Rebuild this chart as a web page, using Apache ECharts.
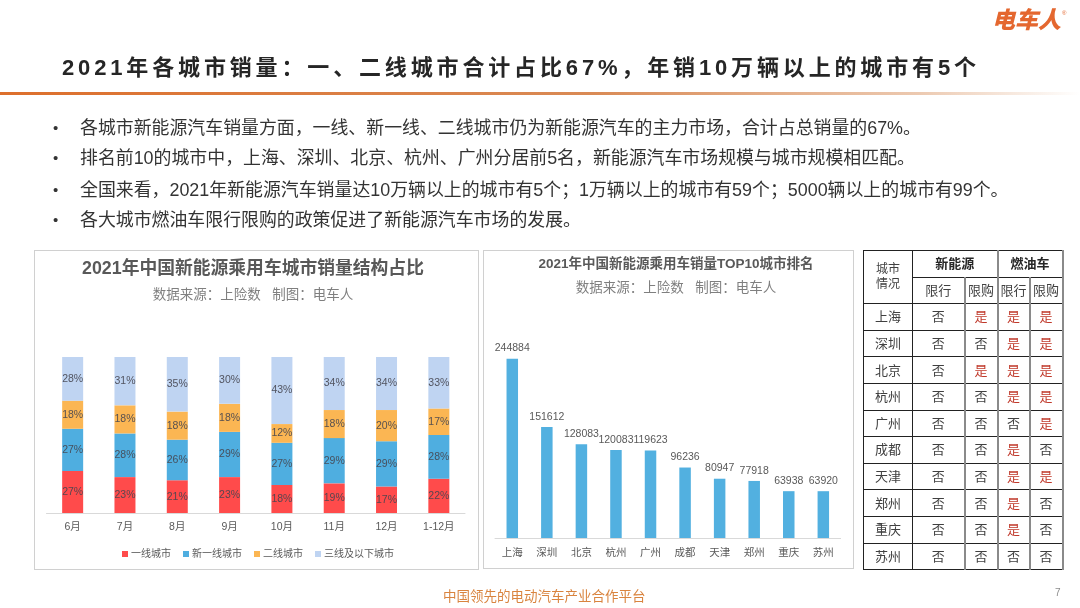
<!DOCTYPE html>
<html>
<head>
<meta charset="utf-8">
<script src="https://cdn.jsdelivr.net/npm/echarts@6/dist/echarts.min.js"></script>
<style>
  html, body { margin: 0; padding: 0; background: #fff; }
  body { width: 1080px; height: 608px; position: relative; overflow: hidden; font-family: "Liberation Sans", "Noto Sans CJK SC", sans-serif; }
  .abs { position: absolute; white-space: nowrap; }
  #heading { left: 62px; top: 53px; font-size: 22px; line-height: 30px; font-weight: bold; letter-spacing: 3.85px; color: #262626; }
  #rule { left: 0; top: 92px; width: 1080px; height: 3px; background: linear-gradient(to right, #dd6f2c 0%, #d98a55 55%, #ecc9b0 85%, #ffffff 100%); }
  #logo { left: 992px; top: 3px; font-size: 23px; line-height: 34px; font-weight: 900; font-style: italic; color: #e4672f; }
  #logo sup { font-size: 6px; font-style: normal; font-weight: normal; vertical-align: 13px; line-height: 0; margin-left: 1px; }
  .bullet { left: 80px; font-size: 17.9px; line-height: 24px; color: #333; }
  .bullet::before { content: "•"; position: absolute; left: -27px; font-size: 15px; }
  .panel { border: 1px solid #d0d0d0; box-sizing: border-box; }
  #main { left: 0; top: 0; width: 1080px; height: 608px; }
  #footer { left: 443px; top: 588px; font-size: 13.5px; line-height: 18px; color: #d9843f; }
  #pageNo { left: 1055px; top: 587px; font-size: 10px; line-height: 12px; color: #8c8c8c; }
  #cities { left: 863px; top: 250px; border-collapse: collapse; table-layout: fixed; width: 199px; font-size: 13px; color: #404040; }
  #cities td { border: 1px solid #222; text-align: center; padding: 0; height: 25.6px; line-height: 15px; }
  #cities td.v { border-left: 2px solid #8a8a8a; border-right: 2px solid #8a8a8a; }
  #cities td.city { border-right: 1px solid #222; }
  #cities .yes { color: #c0392b; }
  #cities .head { font-weight: bold; color: #262626; }
</style>
</head>
<body>
<div class="abs panel" style="left:34px;top:250px;width:445px;height:320px"></div>
<div class="abs panel" style="left:483px;top:250px;width:371px;height:319px"></div>
<div class="abs" id="main"></div>

<div class="abs" id="logo">电车人<sup>®</sup></div>
<div class="abs" id="heading">2021年各城市销量：一、二线城市合计占比67%，年销10万辆以上的城市有5个</div>
<div class="abs" id="rule"></div>
<div class="abs bullet" style="top:116px">各城市新能源汽车销量方面，一线、新一线、二线城市仍为新能源汽车的主力市场，合计占总销量的67%。</div>
<div class="abs bullet" style="top:146px">排名前10的城市中，上海、深圳、北京、杭州、广州分居前5名，新能源汽车市场规模与城市规模相匹配。</div>
<div class="abs bullet" style="top:178px">全国来看，2021年新能源汽车销量达10万辆以上的城市有5个；1万辆以上的城市有59个；5000辆以上的城市有99个。</div>
<div class="abs bullet" style="top:208px">各大城市燃油车限行限购的政策促进了新能源汽车市场的发展。</div>
<table class="abs" id="cities"></table>
<div class="abs" id="footer">中国领先的电动汽车产业合作平台</div>
<div class="abs" id="pageNo">7</div>

<script>
var months = ['6月', '7月', '8月', '9月', '10月', '11月', '12月', '1-12月'];
var tier1 = [27, 23, 21, 23, 18, 19, 17, 22];
var newTier1 = [27, 28, 26, 29, 27, 29, 29, 28];
var tier2 = [18, 18, 18, 18, 12, 18, 20, 17];
var tier3 = [28, 31, 35, 30, 43, 34, 34, 33];

var cities = ['上海', '深圳', '北京', '杭州', '广州', '成都', '天津', '郑州', '重庆', '苏州'];
var sales = [244884, 151612, 128083, 120083, 119623, 96236, 80947, 77918, 63938, 63920];

var nevDrive = ['否', '否', '否', '否', '否', '否', '否', '否', '否', '否'];
var nevBuy = ['是', '否', '是', '否', '否', '否', '否', '否', '否', '否'];
var iceDrive = ['是', '是', '是', '是', '否', '是', '是', '是', '是', '否'];
var iceBuy = ['是', '是', '是', '是', '是', '否', '是', '否', '否', '否'];

// table on the right
function cell(txt) {
  return '<td class="v' + (txt == '是' ? ' yes' : '') + '">' + txt + '</td>';
}
var html = '<colgroup><col style="width:49px"><col style="width:52px"><col style="width:33px"><col style="width:32px"><col style="width:33px"></colgroup>';
html += '<tr><td rowspan="2" class="city" style="font-size:12px">城市<br>情况</td><td colspan="2" class="head">新能源</td><td colspan="2" class="head v">燃油车</td></tr>';
html += '<tr><td>限行</td><td class="v">限购</td><td class="v">限行</td><td class="v">限购</td></tr>';
cities.forEach(function (c, i) {
  html += '<tr><td class="city">' + c + '</td><td' + (nevDrive[i] == '是' ? ' class="yes"' : '') + '>' + nevDrive[i] + '</td>' +
    cell(nevBuy[i]) + cell(iceDrive[i]) + cell(iceBuy[i]) + '</tr>';
});
document.getElementById('cities').innerHTML = html;

var fontFamily = '"Liberation Sans", "Noto Sans CJK SC", sans-serif';

function stack(name, data, color) {
  return {
    name: name,
    type: 'bar',
    stack: 'share',
    barWidth: 21,
    xAxisIndex: 0,
    yAxisIndex: 0,
    data: data,
    itemStyle: { color: color },
    label: {
      show: true,
      position: 'inside',
      formatter: '{c}%',
      fontSize: 10.5,
      color: 'rgba(70,70,80,0.9)'
    }
  };
}

var myChart = echarts.init(document.getElementById('main'));
var option = {
  animation: false,
  textStyle: { fontFamily: fontFamily },
  title: [
    { text: '2021年中国新能源乘用车城市销量结构占比', left: 253, top: 260, padding: 0, textAlign: 'center',
      textStyle: { fontSize: 17.8, fontWeight: 'bold', color: '#595959', fontFamily: fontFamily } },
    { text: '数据来源：上险数   制图：电车人', left: 253, top: 289, padding: 0, textAlign: 'center',
      textStyle: { fontSize: 13.5, fontWeight: 'normal', color: '#7f7f7f', fontFamily: fontFamily } },
    { text: '2021年中国新能源乘用车销量TOP10城市排名', left: 676, top: 258, padding: 0, textAlign: 'center',
      textStyle: { fontSize: 13.5, fontWeight: 'bold', color: '#595959', fontFamily: fontFamily } },
    { text: '数据来源：上险数   制图：电车人', left: 676, top: 282, padding: 0, textAlign: 'center',
      textStyle: { fontSize: 13.5, fontWeight: 'normal', color: '#7f7f7f', fontFamily: fontFamily } }
  ],
  legend: {
    left: 122,
    top: 549,
    padding: 0,
    itemWidth: 6,
    itemHeight: 6,
    itemGap: 12,
    icon: 'rect',
    textStyle: { fontSize: 10, color: '#595959', padding: [0, 0, 0, -2] },
    data: ['一线城市', '新一线城市', '二线城市', '三线及以下城市']
  },
  grid: [
    { left: 46.5, top: 357, width: 418.5, height: 156 },
    { left: 495, top: 318.3, width: 345.6, height: 219.7 }
  ],
  xAxis: [
    { type: 'category', gridIndex: 0, data: months,
      axisTick: { show: false }, axisLine: { lineStyle: { color: '#d9d9d9' } },
      axisLabel: { fontSize: 10.5, color: '#595959', margin: 9 } },
    { type: 'category', gridIndex: 1, data: cities,
      axisTick: { show: false }, axisLine: { lineStyle: { color: '#d9d9d9' } },
      axisLabel: { fontSize: 10.5, color: '#595959', margin: 10, interval: 0 } }
  ],
  yAxis: [
    { type: 'value', gridIndex: 0, min: 0, max: 100, show: false },
    { type: 'value', gridIndex: 1, min: 0, max: 300000, show: false }
  ],
  series: [
    stack('一线城市', tier1, '#FF4B4B'),
    stack('新一线城市', newTier1, '#4FAEE0'),
    stack('二线城市', tier2, '#FBB653'),
    stack('三线及以下城市', tier3, '#BFD4F2'),
    {
      type: 'bar',
      xAxisIndex: 1,
      yAxisIndex: 1,
      barWidth: 11.5,
      data: sales,
      itemStyle: { color: '#52B0E0' },
      label: { show: true, position: 'top', distance: 5, fontSize: 10.5, color: '#595959' },
      labelLayout: { hideOverlap: false }
    }
  ]
};
myChart.setOption(option);
</script>
</body>
</html>
